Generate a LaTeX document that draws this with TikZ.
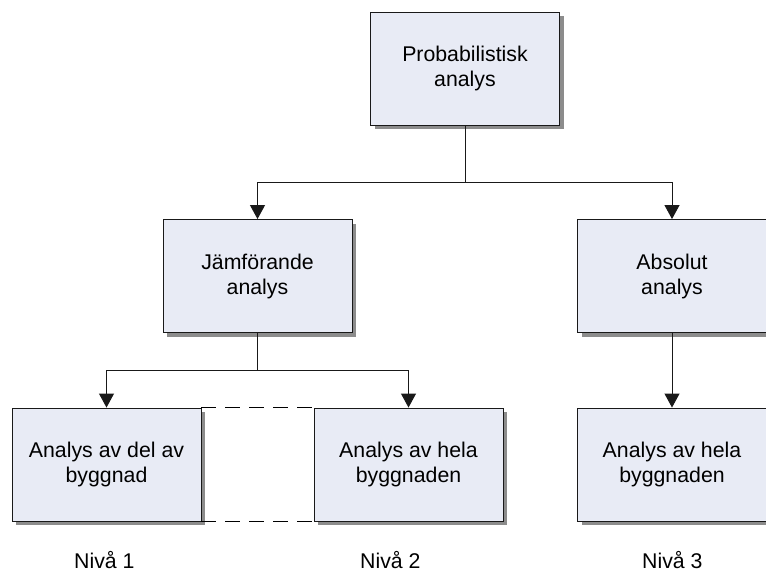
\documentclass[tikz,border=0pt]{standalone}
\usepackage{fontspec}
\setmainfont{Liberation Sans}
\usetikzlibrary{arrows.meta,shadows}
\definecolor{boxfill}{RGB}{232,235,245}
\definecolor{shadowgray}{RGB}{140,140,140}
\definecolor{linegray}{RGB}{25,25,25}
\begin{document}
\begin{tikzpicture}[x=1pt,y=-1pt,
  box/.style={draw=linegray, line width=0.9pt, fill=boxfill,
    minimum width=189pt, minimum height=113pt, inner sep=0pt,
    align=center, font=\fontsize{21.3}{25}\selectfont,
    general shadow={fill=shadowgray, shadow xshift=4pt, shadow yshift=-4pt}},
  link/.style={draw=linegray, line width=1pt},
  arrow/.style={link, -{Triangle[width=15pt,length=14pt]}},
  dashlink/.style={draw=black, line width=1.8pt, dash pattern=on 15pt off 9pt},
  level/.style={font=\fontsize{21.3}{25}\selectfont, inner sep=0pt, anchor=base west}]
\useasboundingbox (0,0) rectangle (766,571);

% boxes
\node[box] (prob) at (465,68.5) {Probabilistisk\\analys};
\node[box] (jam)  at (257.5,276) {Jämförande\\analys};
\node[box] (abs)  at (672,276) {Absolut\\analys};
\node[box] (del)  at (106.5,464.5) {Analys av del av\\byggnad};
\node[box] (hela) at (408.5,464.5) {Analys av hela\\byggnaden};
\node[box] (hel3) at (672,464.5) {Analys av hela\\byggnaden};

% branch points
\coordinate (b1) at (465,182);
\coordinate (b2) at (257.5,370);

% connectors
\draw[link] (prob.south) -- (b1);
\draw[arrow] (b1) -| (jam.north);
\draw[arrow] (b1) -| (abs.north);
\draw[link] (jam.south) -- (b2);
\draw[arrow] (b2) -| (del.north);
\draw[arrow] (b2) -| (hela.north);
\draw[arrow] (abs.south) -- (hel3.north);

% dashed link between the two levels
\draw[dashlink] (del.north east) -- (hela.north west);
\draw[dashlink] (del.south east) -- (hela.south west);

% level labels
\node[level] (n1) at (74,568) {Nivå 1};
\node[level] (n2) at (360,568) {Nivå 2};
\node[level] (n3) at (642,568) {Nivå 3};
\end{tikzpicture}
\end{document}
